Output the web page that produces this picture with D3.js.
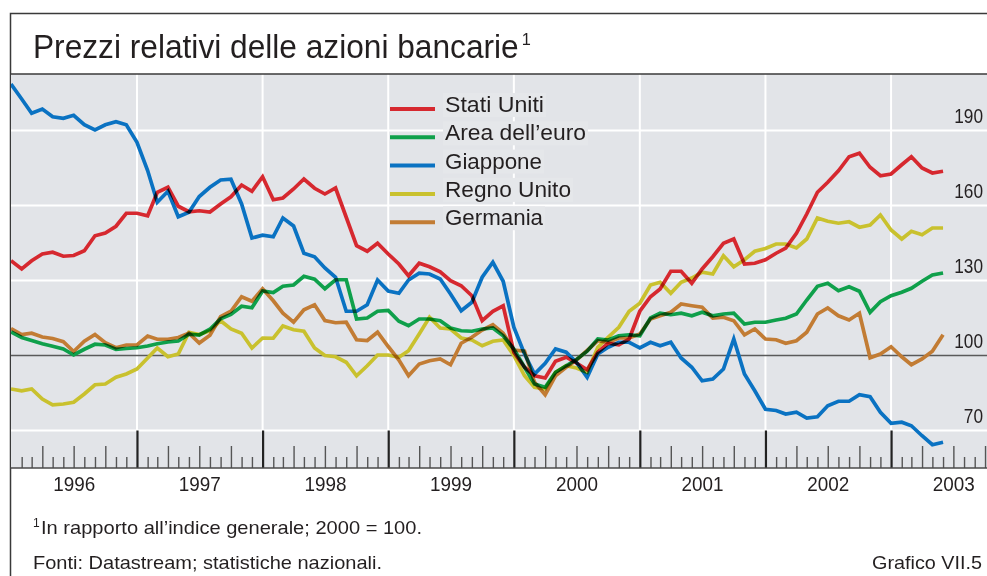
<!DOCTYPE html>
<html>
<head>
<meta charset="utf-8">
<script src="https://cdn.jsdelivr.net/npm/d3@7"></script>
<style>
  html, body { margin: 0; padding: 0; background: #fff; }
  svg { display: block; }
  text { font-family: "Liberation Sans", Arial, sans-serif; fill: #231f20; }
</style>
</head>
<body>
<svg id="chart" width="987" height="576"></svg>
<script>
// Monthly observations, January 1996 – June 2003 (2000 = 100)
const months = d3.timeMonth.range(new Date(1996, 0, 1), new Date(2003, 6, 1));

const statiUniti = [
  137.9,134.6,137.9,140.6,141.3,139.7,140.0,141.9,147.9,149.0,151.7,156.9,
  156.9,155.9,165.3,167.3,159.7,157.5,157.9,157.4,160.6,163.5,168.2,165.7,
  171.5,162.3,163.0,166.6,170.6,166.9,164.6,167.0,155.3,143.9,141.7,144.9,
  140.6,136.6,131.9,136.9,135.5,133.5,129.9,127.9,123.9,113.9,117.7,119.9,
  101.3,95.3,91.9,91.0,97.7,99.3,97.0,94.3,101.3,104.9,104.3,106.6,
  117.7,123.5,126.6,133.7,133.7,128.9,134.6,139.5,144.9,146.6,136.6,136.9,
  138.3,140.9,143.0,148.9,156.6,165.3,169.3,173.9,179.5,180.9,175.3,171.9,
  172.6,176.3,179.5,175.0,173.0,173.7
];
const areaEuro = [
  109.4,107.2,106.0,104.7,103.7,102.6,100.2,102.5,104.5,104.2,102.5,102.8,
  103.1,103.8,104.7,105.4,105.8,108.5,108.2,110.5,114.7,116.4,119.7,119.1,
  125.8,125.2,127.7,128.2,131.7,130.5,126.7,130.3,130.3,114.6,115.0,117.7,
  118.0,113.7,111.9,114.6,114.6,113.9,111.0,109.9,109.7,110.6,111.0,107.9,
  102.6,95.3,88.6,87.3,93.3,95.9,98.4,101.7,106.6,106.2,107.9,108.3,
  107.9,115.0,116.9,116.3,116.9,115.9,117.3,115.9,116.6,116.9,112.6,113.3,
  113.3,114.2,114.9,116.6,122.2,127.7,128.9,125.9,127.5,125.7,117.3,121.5,
  123.9,125.3,126.9,129.7,132.2,133.0
];
const giappone = [
  208.6,202.6,196.9,198.6,195.5,194.9,196.1,192.3,190.2,192.3,193.5,192.3,
  185.3,174.0,161.3,165.7,155.5,157.3,163.6,167.3,170.2,170.5,160.6,147.0,
  148.1,147.5,155.0,151.8,140.9,139.5,135.0,131.3,117.7,117.7,120.3,130.2,
  125.8,124.9,130.2,132.9,132.6,130.6,124.6,117.9,121.3,131.3,137.3,129.7,
  111.3,100.6,92.6,96.9,102.6,101.3,97.2,91.3,100.6,103.3,105.3,105.3,
  103.0,105.3,103.9,105.3,99.0,95.3,89.9,90.6,94.6,106.6,92.6,85.9,
  78.5,78.0,76.6,77.3,75.0,75.5,79.9,81.7,81.7,84.3,83.5,77.3,
  72.9,73.3,71.9,67.9,64.3,65.3
];
const regnoUnito = [
  86.6,85.9,86.6,82.6,80.3,80.6,81.3,84.6,88.3,88.6,91.3,92.6,
  94.6,99.0,103.0,99.5,100.6,109.3,108.4,109.9,113.9,110.6,108.9,103.0,
  107.0,106.9,111.8,110.3,109.7,103.0,100.0,99.5,97.3,91.9,95.9,100.2,
  100.2,99.3,101.9,108.6,115.3,111.0,110.6,107.0,106.2,103.9,105.7,106.2,
  100.0,91.9,87.3,86.6,93.3,95.9,95.0,93.3,103.3,107.3,111.3,117.7,
  120.9,128.2,129.3,124.9,129.3,131.0,133.3,132.6,139.9,135.5,138.3,141.7,
  142.8,144.6,144.6,143.0,146.6,155.0,153.7,152.9,153.5,151.3,152.2,156.2,
  150.2,146.6,149.7,148.3,151.0,151.0
];
const germania = [
  110.8,108.4,108.9,107.4,106.8,105.5,101.6,105.7,108.4,105.1,103.1,104.2,
  104.2,107.8,106.5,106.5,107.2,108.9,105.0,108.1,115.5,117.7,123.5,121.7,
  126.7,121.9,116.9,113.3,118.3,120.3,114.0,113.1,113.3,106.3,106.0,109.3,
  103.6,98.2,91.9,96.6,97.9,98.6,96.3,104.9,107.3,110.2,112.3,108.9,
  102.2,101.7,89.3,84.3,91.9,95.3,98.2,102.0,105.9,105.3,107.0,107.0,
  108.6,114.6,115.9,117.3,120.6,119.9,119.3,115.0,115.3,113.9,108.3,110.6,
  106.6,106.3,104.9,105.9,109.3,116.6,119.0,115.9,114.2,116.9,99.1,100.6,
  103.5,99.5,96.3,98.6,101.7,108.3
];

const seriesNames  = ["Stati Uniti", "Area dell\u2019euro", "Giappone", "Regno Unito", "Germania"];
const seriesValues = [statiUniti, areaEuro, giappone, regnoUnito, germania];
const seriesColors = ["#d6282f", "#0fa04b", "#0a72c2", "#c9c12e", "#c27c34"];

const yTicks = [70, 100, 130, 160, 190];
const yearLabels = [1996, 1997, 1998, 1999, 2000, 2001, 2002, 2003];

// ---- layout ----
const W = 987, H = 576;
const plot = { left: 11, right: 987, top: 74, bottom: 468, tickTop: 430.5 };
const FONT = "\"Liberation Sans\", Arial, sans-serif";

const svg = d3.select("#chart");

const x = d3.scaleTime()
  .domain([new Date(1996, 0, 1), new Date(2004, 0, 1)])
  .range([11, 1016.7]);
const y = d3.scaleLinear()
  .domain([70, 190])
  .range([430.5, 130.5]);

// outer frame
svg.append("rect")
  .attr("x", 10.5).attr("y", 13.5)
  .attr("width", 1000).attr("height", 600)
  .attr("fill", "#fff").attr("stroke", "#3a3a3a").attr("stroke-width", 1.5);

// title with its footnote marker, horizontally condensed to the set width
const title = svg.append("text")
  .style("font-size", "33px");
const titleMain = title.append("tspan")
  .text("Prezzi relativi delle azioni bancarie");
const sx = 486 / titleMain.node().getComputedTextLength();
title.attr("transform", `translate(33,58) scale(${sx},1)`);
title.append("tspan")
  .attr("dx", 3 / sx).attr("dy", -13)
  .style("font-size", "17px")
  .text("1");

// plot background
svg.append("defs").append("clipPath").attr("id", "plotClip")
  .append("rect")
  .attr("x", plot.left).attr("y", plot.top)
  .attr("width", plot.right - plot.left).attr("height", plot.bottom - plot.top);

svg.append("rect")
  .attr("x", plot.left).attr("y", plot.top)
  .attr("width", plot.right - plot.left).attr("height", plot.bottom - plot.top)
  .attr("fill", "#e2e4e8");

const g = svg.append("g").attr("clip-path", "url(#plotClip)");

// horizontal gridlines
g.selectAll("line.hgrid")
  .data(yTicks.filter(v => v !== 100))
  .join("line")
  .attr("class", "hgrid")
  .attr("x1", plot.left).attr("x2", plot.right)
  .attr("y1", d => y(d)).attr("y2", d => y(d))
  .attr("stroke", "#fff").attr("stroke-width", 2);

// vertical gridlines at year starts
const yearStarts = d3.timeYear.range(new Date(1997, 0, 1), new Date(2004, 0, 1));
g.selectAll("line.vgrid")
  .data(yearStarts)
  .join("line")
  .attr("class", "vgrid")
  .attr("x1", d => x(d)).attr("x2", d => x(d))
  .attr("y1", plot.top).attr("y2", y(70))
  .attr("stroke", "#fff").attr("stroke-width", 2);

// reference line at 100
g.append("line")
  .attr("x1", plot.left).attr("x2", plot.right)
  .attr("y1", y(100)).attr("y2", y(100))
  .attr("stroke", "#5a5a5a").attr("stroke-width", 1.6);

// month / quarter / year ticks along the bottom of the plot
const allMonths = d3.timeMonth.range(new Date(1996, 0, 1), new Date(2004, 0, 1));
const monthTicks   = allMonths.filter(d => d.getMonth() % 3 !== 0);
const quarterTicks = allMonths.filter(d => d.getMonth() % 3 === 0 && d.getMonth() !== 0);
const yearTicks    = allMonths.filter(d => d.getMonth() === 0 && d.getFullYear() > 1996);

function tickRow(values, size, color, width) {
  const ax = g.append("g")
    .attr("transform", `translate(0,${plot.bottom})`)
    .call(d3.axisTop(x).tickValues(values).tickSize(size).tickFormat(""));
  ax.select(".domain").remove();
  ax.selectAll("line").attr("stroke", color).attr("stroke-width", width);
}
tickRow(monthTicks, 11, "#555", 1.4);
tickRow(quarterTicks, 22, "#555", 1.4);
tickRow(yearTicks, plot.bottom - plot.tickTop, "#222", 2.2);

// series lines
const line = d3.line()
  .x((d, i) => x(months[i]))
  .y(d => y(d));

const lines = g.append("g").style("isolation", "isolate");
lines.selectAll("path")
  .data(seriesValues)
  .join("path")
  .attr("d", d => line(d))
  .attr("fill", "none")
  .attr("stroke", (d, i) => seriesColors[i])
  .attr("stroke-width", 3.7)
  .attr("stroke-linejoin", "miter")
  .style("mix-blend-mode", "multiply");

// plot border lines
svg.append("line")
  .attr("x1", plot.left - 0.5).attr("x2", W)
  .attr("y1", plot.top).attr("y2", plot.top)
  .attr("stroke", "#3a3a3a").attr("stroke-width", 1.5);
svg.append("line")
  .attr("x1", plot.left - 0.5).attr("x2", W)
  .attr("y1", plot.bottom).attr("y2", plot.bottom)
  .attr("stroke", "#4a4a4a").attr("stroke-width", 1.5);

// right-hand value labels
const yAxis = svg.append("g")
  .attr("transform", "translate(983,0)")
  .call(d3.axisLeft(y).tickValues(yTicks).tickSize(0).tickPadding(0));
yAxis.select(".domain").remove();
yAxis.selectAll("text")
  .attr("dy", null).attr("y", -8.5)
  .attr("textLength", d => String(d).length * 9.6)
  .attr("lengthAdjust", "spacingAndGlyphs")
  .style("font-size", "19.5px")
  .style("font-family", FONT)
  .attr("fill", "#231f20");

// year labels centred on each year
const xAxis = svg.append("g")
  .attr("transform", `translate(0,${plot.bottom})`)
  .call(d3.axisBottom(x)
    .tickValues(yearLabels.map(yr => new Date(yr, 6, 1)))
    .tickSize(0).tickPadding(8)
    .tickFormat(d3.timeFormat("%Y")));
xAxis.select(".domain").remove();
xAxis.selectAll("text")
  .attr("textLength", 42).attr("lengthAdjust", "spacingAndGlyphs")
  .style("font-size", "21px")
  .style("font-family", FONT)
  .attr("fill", "#231f20");

// legend
const legendWidths = [99, 141, 97, 126, 98];
const legend = svg.append("g");
seriesNames.forEach((name, i) => {
  const ly = 109 + i * 28.3;
  legend.append("rect")
    .attr("x", 443).attr("y", ly - 16)
    .attr("width", legendWidths[i] + 4).attr("height", 24)
    .attr("fill", "#e5e7ea");
  legend.append("line")
    .attr("x1", 390).attr("x2", 435)
    .attr("y1", ly).attr("y2", ly)
    .attr("stroke", seriesColors[i]).attr("stroke-width", 4);
  legend.append("text")
    .attr("x", 445).attr("y", ly + 3)
    .attr("textLength", legendWidths[i]).attr("lengthAdjust", "spacingAndGlyphs")
    .style("font-size", "22px")
    .text(name);
});

// footnotes
svg.append("text")
  .attr("x", 33).attr("y", 527)
  .style("font-size", "12px")
  .text("1");
svg.append("text")
  .attr("x", 41).attr("y", 534)
  .attr("textLength", 381).attr("lengthAdjust", "spacingAndGlyphs")
  .style("font-size", "18.5px")
  .text("In rapporto all\u2019indice generale; 2000 = 100.");
svg.append("text")
  .attr("x", 33).attr("y", 569)
  .attr("textLength", 349).attr("lengthAdjust", "spacingAndGlyphs")
  .style("font-size", "18.5px")
  .text("Fonti: Datastream; statistiche nazionali.");
svg.append("text")
  .attr("x", 872).attr("y", 569)
  .attr("textLength", 110).attr("lengthAdjust", "spacingAndGlyphs")
  .style("font-size", "18.5px")
  .text("Grafico VII.5");
</script>
</body>
</html>
